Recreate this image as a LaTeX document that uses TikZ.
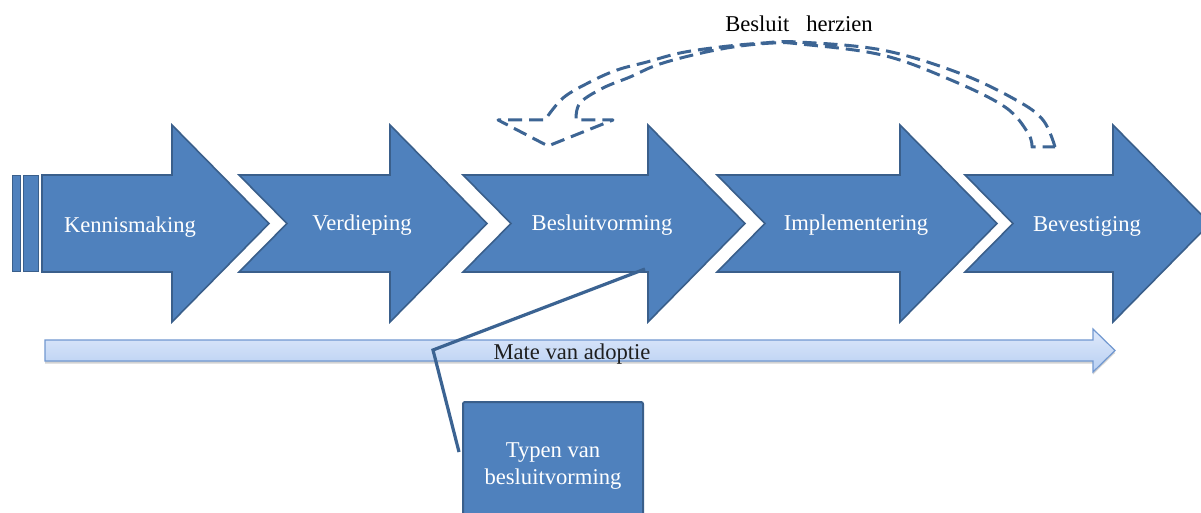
\documentclass[tikz,border=0pt]{standalone}
\usepackage{fontspec}
\setmainfont{Liberation Serif}
\usetikzlibrary{shadows,calc}
\definecolor{arrowfill}{HTML}{4F81BD}
\definecolor{arrowline}{HTML}{3A5F8B}
\definecolor{lightfillA}{HTML}{DFE9FB}
\definecolor{lightfillB}{HTML}{B7CFF2}
\definecolor{lightline}{HTML}{7198D0}
\definecolor{dashcol}{HTML}{3D6594}
\definecolor{calloutcol}{HTML}{3B6392}
\tikzset{
  bigarrow/.style={fill=arrowfill, draw=arrowline, line width=1.6pt, line join=miter},
  stripe/.style={fill=arrowfill, draw=arrowline, line width=1pt},
  lbl/.style={text=white, font=\fontsize{22.6}{27}\selectfont, anchor=base, inner sep=0pt},
  darklbl/.style={text=black!88, font=\fontsize{22.6}{27}\selectfont, anchor=base, inner sep=0pt},
  lightarrow/.style={top color=lightfillA, bottom color=lightfillB, draw=lightline, line width=1.2pt,
    drop shadow={opacity=0.35, shadow xshift=0pt, shadow yshift=-2.5pt}},
  dashedarrow/.style={draw=dashcol, line width=3pt, dash pattern=on 14pt off 7pt, line join=round},
  typebox/.style={fill=arrowfill, draw=arrowline, line width=2pt, rounded corners=2pt,
    minimum width=180pt, minimum height=128pt, inner sep=0pt, text=white, align=center,
    font=\fontsize{22.6}{27}\selectfont},
  callout/.style={draw=calloutcol, line width=3.2pt, line join=miter}
}
\begin{document}
\begin{tikzpicture}[x=1pt,y=-1pt]
\clip (0,0) rectangle (1201,513);
\fill[white] (0,0) rectangle (1201,513);

% stripes of the first arrow
\draw[stripe] (12.5,175.5) rectangle (20,271.5);
\draw[stripe] (23.5,175.5) rectangle (38.5,271.5);
% first arrow
\draw[bigarrow] (42,175) -- (172,175) -- (172,125) -- (269,223.5) -- (172,322) -- (172,272) -- (42,272) -- cycle;
% chevron arrows
\foreach \t/\b in {239/390, 463/648, 717/900, 965/1113}{
  \draw[bigarrow] (\t,175) -- (\b,175) -- (\b,125) -- ({\b+97},223.5) -- (\b,322) -- (\b,272) -- (\t,272) -- ({\t+48},223.5) -- cycle;
}

\node[lbl] (kennis) at (130,232) {Kennismaking};
\node[lbl] (verdiep) at (362,230.5) {Verdieping};
\node[lbl] (besluit) at (602,230.5) {Besluitvorming};
\node[lbl] (implem) at (856,230.5) {Implementering};
\node[lbl] (bevest) at (1087,231) {Bevestiging};

% light arrow
\draw[lightarrow] (45,340) -- (1093,340) -- (1093,329) -- (1115,350.5) -- (1093,372) -- (1093,361) -- (45,361) -- cycle;
\node[darklbl] (mate) at (572,359) {Mate van adoptie};

% dashed curved arrow
\draw[dashedarrow] plot[smooth, tension=0.6] coordinates {(1055,147) (1043,120) (1016,100) (959,73) (882,50) (798,42) (763,43) (720,47) (680,53) (647,62) (617,70) (590,82) (563,98) (545,120)}
  -- (498,120) -- (548,146) -- (608,122) -- (613,120) -- (576,120)
  -- plot[smooth, tension=0.6] coordinates {(576,120) (580,103) (603,88) (630,77) (657,65) (693,55) (733,47) (773,43) (800,44) (882,55) (951,80) (1005,107) (1028,133) (1032,147)}
  -- cycle;
\node[darklbl, text=black] (herzien) at (799,32) {Besluit\hspace{0.5em} herzien};

% box and callout
\node[typebox] (typen) at (553,466) {Typen van\\besluitvorming};
\coordinate (cbend) at (433,350);
\coordinate (ctip) at (645,269);
\draw[callout] ([xshift=-3pt]typen.west |- 0,452) -- (cbend) -- (ctip);
\end{tikzpicture}
\end{document}
